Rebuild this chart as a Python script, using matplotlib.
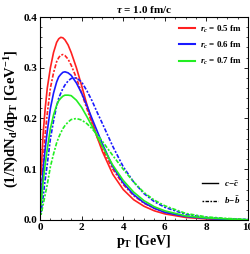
import numpy as np
import matplotlib
matplotlib.use('Agg')
import matplotlib.pyplot as plt
from matplotlib.lines import Line2D
from matplotlib.ticker import MultipleLocator

plt.rcParams['font.family'] = 'Liberation Serif'
plt.rcParams['font.weight'] = 'bold'
plt.rcParams['mathtext.fontset'] = 'custom'
plt.rcParams['mathtext.rm'] = 'Liberation Serif:bold'
plt.rcParams['mathtext.bf'] = 'Liberation Serif:bold'
plt.rcParams['mathtext.it'] = 'Liberation Serif:bold:italic'

# 数据点
pt = [0.05, 0.15, 0.25, 0.35, 0.5, 0.65, 0.8, 0.9, 1.0, 1.1, 1.2, 1.35, 1.5, 1.75, 2.0,
      2.25, 2.5, 2.75, 3.0, 3.5, 4.0, 4.5, 5.0, 5.5, 6.0, 7.0, 8.0, 9.0, 10.0]
red_c = [0.09, 0.17, 0.22, 0.26, 0.30, 0.33, 0.35, 0.357, 0.36, 0.359, 0.355, 0.345, 0.33, 0.30, 0.265,
         0.228, 0.195, 0.163, 0.135, 0.09, 0.06, 0.04, 0.027, 0.018, 0.012, 0.005, 0.002, 0.001, 0.0]
red_b = [0.05, 0.11, 0.17, 0.21, 0.26, 0.29, 0.312, 0.32, 0.325, 0.326, 0.324, 0.317, 0.305, 0.28, 0.25,
         0.22, 0.19, 0.163, 0.14, 0.10, 0.07, 0.048, 0.033, 0.023, 0.015, 0.007, 0.003, 0.001, 0.0]
blue_c = [0.04, 0.10, 0.14, 0.175, 0.22, 0.25, 0.272, 0.282, 0.287, 0.291, 0.292, 0.29, 0.285, 0.27, 0.25,
          0.226, 0.2, 0.175, 0.15, 0.105, 0.073, 0.05, 0.034, 0.023, 0.015, 0.007, 0.003, 0.001, 0.0]
blue_b = [0.015, 0.045, 0.08, 0.11, 0.16, 0.195, 0.225, 0.24, 0.25, 0.259, 0.266, 0.274, 0.279, 0.28, 0.272,
          0.255, 0.235, 0.212, 0.19, 0.145, 0.105, 0.075, 0.052, 0.036, 0.025, 0.011, 0.005, 0.002, 0.001]
green_c = [0.03, 0.075, 0.11, 0.14, 0.18, 0.207, 0.226, 0.235, 0.24, 0.244, 0.246, 0.246, 0.245, 0.236, 0.222,
           0.204, 0.185, 0.165, 0.145, 0.108, 0.078, 0.055, 0.038, 0.026, 0.018, 0.008, 0.004, 0.002, 0.0]
green_b = [0.01, 0.03, 0.05, 0.07, 0.105, 0.13, 0.152, 0.163, 0.172, 0.18, 0.186, 0.193, 0.198, 0.2, 0.197,
           0.19, 0.18, 0.168, 0.155, 0.127, 0.1, 0.075, 0.054, 0.039, 0.028, 0.013, 0.006, 0.003, 0.001]

rc_labels = ['0.5', '0.6', '0.7']
colors = ['#ff2020', '#1a1aff', '#22ee22']

fig = plt.figure(figsize=(2.5, 2.54), dpi=100)
ax = fig.add_axes([0.16, 0.134, 0.832, 0.799])

dd = (0, (1.2, 1.0, 2.5, 1.0))
for yc, yb, col in zip([red_c, blue_c, green_c], [red_b, blue_b, green_b], colors):
    ax.plot(pt, yc, color=col, lw=1.2)
    ax.plot(pt, yb, color=col, lw=1.2, ls=dd)

ax.set_xlim(0, 10)
ax.set_ylim(0, 0.4)
ax.xaxis.set_major_locator(MultipleLocator(2))
ax.xaxis.set_minor_locator(MultipleLocator(0.5))
ax.yaxis.set_major_locator(MultipleLocator(0.1))
ax.yaxis.set_minor_locator(MultipleLocator(0.02))
ax.tick_params(which='both', direction='in', top=True, right=True, labelsize=8, pad=2)
ax.tick_params(which='major', length=3, width=0.6)
ax.tick_params(which='minor', length=1.5, width=0.5)
ax.set_xticks([0, 2, 4, 6, 8, 10])
ax.set_xticklabels(['0', '2', '4', '6', '8', '10'], fontweight='bold')
ax.set_yticks([0, 0.1, 0.2, 0.3, 0.4])
ax.set_yticklabels(['0.0', '0.1', '0.2', '0.3', '0.4'], fontweight='bold')
for s in ax.spines.values():
    s.set_linewidth(0.8)

ax.set_xlabel(r'p$_\mathrm{T}$ [GeV]', fontsize=10, fontweight='bold', labelpad=1)
ax.set_ylabel(r'(1/N)dN$_\mathrm{d}$/dp$_\mathrm{T}$ [GeV$^{-1}$]', fontsize=10.5, fontweight='bold', labelpad=2)
ax.set_title(r'$\tau$ = 1.0 fm/c', fontsize=8, fontweight='bold', pad=3)

h1 = [Line2D([], [], color=c, lw=1.5) for c in colors]
l1 = [r'$r_c$ = %s fm' % r for r in rc_labels]
leg1 = ax.legend(h1, l1, loc='upper right', frameon=False,
                 prop={'size': 6.5, 'weight': 'bold'},
                 handlelength=1.8, handletextpad=0.5, labelspacing=0.55,
                 borderaxespad=0.3)
ax.add_artist(leg1)

h2 = [Line2D([], [], color='k', lw=1.0), Line2D([], [], color='k', lw=1.0, ls=dd)]
l2 = [r'$c\!-\!\bar{c}$', r'$b\!-\!\bar{b}$']
ax.legend(h2, l2, loc='lower right', frameon=False,
          prop={'size': 6.5, 'weight': 'bold'},
          handlelength=1.8, handletextpad=0.6, labelspacing=0.6,
          bbox_to_anchor=(1.0, 0.03))

fig.savefig('out.png', dpi=100)
